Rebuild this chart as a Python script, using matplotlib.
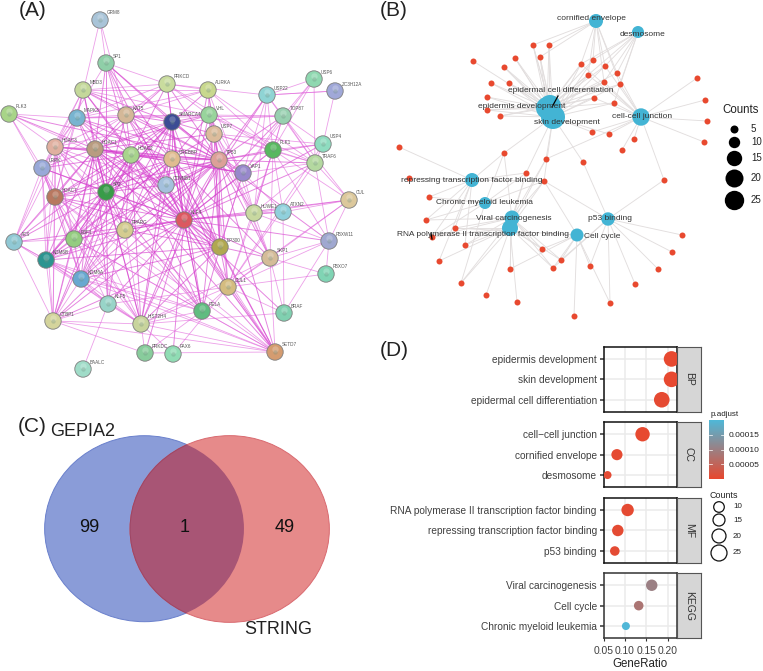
import numpy as np
import matplotlib
matplotlib.use("Agg")
import matplotlib.pyplot as plt
from matplotlib.patches import Circle, Ellipse
from matplotlib.colors import LinearSegmentedColormap

plt.rcParams['font.family'] = ['Liberation Sans', 'DejaVu Sans']
W, H = 763, 671

# ---------- Panel A: STRING network ----------
a_names = ["GRM8","SP1","PRKCD","AURKA","USP6","ZC3H12A","USP22","MBD3","PLK3","MAPK3","KAT5","SMARCA4","VHL","TOP87",
           "USP7","USP4","PLK1","TRAF6","HDAC3","HDAC1","HDAC2","CREBBP","TP53","YAP1","LRRK","CTNNB1","SP2","HDAC7",
           "HUWE1","ATXN2","CUL","KLF4","PPARG","EP300","FBXW11","AES","EBF1","SKP1","KDM6B","FBXO7","CUL1","KDM6A",
           "KLF5","RELA","BRAF","CTBP1","HIST2H4","PRKDC","PAX6","SETD7","BAALC"]
a_x = [100,106,167,208,314,335,267,83,9,77,126,172,209,283,214,323,273,315,55,95,131,172,219,243,42,166,106,55,
       254,283,349,184,125,220,329,14,74,270,46,326,228,81,108,202,284,53,141,145,173,275,83]
a_y = [20,63,84,90,79,91,95,90,114,118,115,122,115,116,134,144,150,163,147,149,155,159,160,173,168,185,192,197,
       213,212,200,220,230,247,241,242,239,258,260,274,287,279,304,311,313,321,324,353,354,352,369]
a_colors = ["#a9c4d8","#8fcfa8","#c9dc9e","#c8d88e","#8fd8b0","#a0a8d8","#8fd4d4","#c4d89a","#a8d488","#78b4d0","#d4b898","#3c4c94",
            "#98d49c","#98d0b0","#dcbc9c","#8fdcc0","#58b860","#b4d8a0","#e0b0a0","#b89c80","#a8d48c","#e0bc90","#dca098","#9888cc",
            "#98a8d8","#a4c0dc","#389c48","#b87860","#c8d8a0","#90d0dc","#dcc89c","#dc5860","#d4cc90","#b0a850","#a0a8d0","#90c8d4",
            "#94cc80","#d4bc98","#2c9490","#80d4b4","#d4bc80","#68a8d0","#98d4c8","#60bc80","#80d0b0","#d4d49c","#c8d49c","#88cc9c",
            "#90dcb4","#d49c70","#a0dcc8"]
a_edges = {
 "KLF4": "SP1 PRKCD AURKA SMARCA4 VHL USP7 HDAC3 HDAC1 HDAC2 CREBBP TP53 YAP1 CTNNB1 SP2 HDAC7 HUWE1 ATXN2 CUL PPARG EP300 FBXW11 AES EBF1 SKP1 KDM6B CUL1 KDM6A KLF5 RELA CTBP1 HIST2H4 PRKDC PAX6 SETD7 USP4 TRAF6 MAPK3 KAT5 MBD3 LRRK PLK1 TOP87 BRAF USP22",
 "TP53": "SP1 PRKCD AURKA SMARCA4 VHL USP7 HDAC3 HDAC1 HDAC2 CREBBP YAP1 CTNNB1 SP2 HDAC7 HUWE1 PPARG EP300 EBF1 SKP1 KDM6B CUL1 KDM6A RELA CTBP1 HIST2H4 SETD7 USP22 USP4 TRAF6 PLK1 MAPK3 KAT5 MBD3 TOP87 FBXW11 PLK3",
 "HDAC1": "SP1 PRKCD SMARCA4 VHL KAT5 MBD3 MAPK3 HDAC3 HDAC2 CREBBP CTNNB1 SP2 HDAC7 PPARG EP300 RELA EBF1 KDM6B KDM6A KLF5 CTBP1 HIST2H4 AES LRRK YAP1 SETD7 PLK3 USP7",
 "HDAC2": "SP1 PRKCD SMARCA4 KAT5 MBD3 MAPK3 HDAC3 CREBBP CTNNB1 SP2 HDAC7 PPARG EP300 RELA EBF1 KDM6B KDM6A KLF5 CTBP1 HIST2H4 SETD7 AES LRRK YAP1",
 "HDAC3": "SP1 MBD3 SMARCA4 KAT5 CREBBP CTNNB1 SP2 HDAC7 PPARG RELA EBF1 KDM6B KDM6A CTBP1 HIST2H4 AES LRRK PLK3 MAPK3",
 "CREBBP": "SP1 SMARCA4 VHL KAT5 USP7 CTNNB1 SP2 HDAC7 PPARG EP300 RELA EBF1 KDM6B KDM6A HIST2H4 SETD7 YAP1 MAPK3 CUL1 SKP1",
 "SMARCA4": "PRKCD SP1 KAT5 VHL USP7 CTNNB1 SP2 PPARG EP300 RELA KDM6B KDM6A HIST2H4 HDAC7 EBF1 YAP1 MBD3 AURKA",
 "EP300": "KAT5 USP7 CTNNB1 SP2 HDAC7 PPARG RELA KDM6B KDM6A HIST2H4 SETD7 YAP1 CUL1 SKP1 VHL CTBP1",
 "SP2": "SP1 KAT5 MAPK3 CTNNB1 HDAC7 PPARG RELA EBF1 KDM6B KDM6A KLF5 CTBP1 HIST2H4 AES LRRK MBD3",
 "HIST2H4": "HDAC7 KDM6B KDM6A EBF1 PPARG CTBP1 RELA SETD7 AES KLF5 CUL1 LRRK SKP1 BRAF",
 "SETD7": "RELA CUL1 KDM6A KDM6B CTBP1 PPARG EBF1 SKP1 HDAC7 CTNNB1 PRKDC",
 "CUL1": "SKP1 FBXW11 FBXO7 BRAF HUWE1 CUL RELA USP4 PLK1 VHL TRAF6 KLF5 PAX6",
 "SKP1": "FBXW11 FBXO7 BRAF HUWE1 PLK1 CUL USP7 VHL",
 "HDAC7": "AES KDM6B KDM6A CTBP1 EBF1 LRRK PPARG MBD3 PLK3 MAPK3 RELA KLF5",
 "KDM6B": "KDM6A CTBP1 EBF1 AES LRRK PPARG RELA KLF5",
 "KDM6A": "CTBP1 EBF1 AES PPARG RELA KLF5 LRRK",
 "EBF1": "AES CTBP1 LRRK PPARG RELA",
 "CTBP1": "AES LRRK PRKDC KLF5",
 "USP7": "PLK1 YAP1 VHL AURKA TRAF6 USP4 HUWE1 EP300",
 "PLK1": "AURKA VHL USP22 USP4 TRAF6 TOP87 YAP1 PRKCD HUWE1 FBXW11 CUL ATXN2 USP6",
 "YAP1": "VHL USP22 USP6 TOP87 TRAF6 ATXN2 HUWE1 EP300",
 "TRAF6": "USP4 USP22 TOP87 CUL AURKA VHL USP6 FBXW11 HUWE1",
 "USP22": "ZC3H12A TOP87 HUWE1 USP6",
 "ZC3H12A": "USP4 USP22",
 "TOP87": "VHL USP6 USP4 CUL HUWE1 MAPK3 SMARCA4",
 "PRKCD": "AURKA SP1 MBD3 MAPK3 KAT5 VHL USP22",
 "AURKA": "VHL MAPK3 HUWE1 KAT5 MBD3",
 "MBD3": "MAPK3 KAT5 LRRK VHL",
 "MAPK3": "KAT5 LRRK PLK3 VHL AES",
 "KAT5": "SP1 VHL LRRK",
 "PLK3": "LRRK CTNNB1",
 "GRM8": "SP1 KAT5 MAPK3",
 "CUL": "FBXW11 ATXN2 HUWE1",
 "FBXW11": "FBXO7 HUWE1 BRAF",
 "BAALC": "KLF5",
 "PRKDC": "RELA HIST2H4",
 "PAX6": "HIST2H4",
 "ATXN2": "HUWE1 BRAF",
 "LRRK": "AES KDM6A",
}

# ---------- Panel B: gene-concept network ----------
b_terms = ["cornified envelope","desmosome","epidermis development","skin development","epidermal cell differentiation",
           "cell-cell junction","repressing transcription factor binding","Chronic myeloid leukemia","Viral carcinogenesis",
           "RNA polymerase II transcription factor binding","p53 binding","Cell cycle"]
b_tx = [596,638,547,553,550,641,472,485,512,510,608,577]
b_ty = [21,32,108,117,106,117,180,203,218,228,219,235]
b_tr = [7,6,11,12,11,8.7,7,6,7.5,8,6.7,6.5]
b_lx = [591,642,522,567,561,642,472,484,514,483,610,602]
b_ly = [19,34,107,122,91,117,180,203,218,234,219,236]
b_gx = [533,549,540,515,473,504,491,509,487,487,500,581,593,605,617,588,604,620,594,614,697,705,707,704,592,609,634,622,
        504,546,583,526,544,664,399,409,429,426,455,432,465,439,461,486,517,510,542,553,561,590,635,610,574,658,672,682]
b_gy = [45,45,57,58,61,67,83,83,97,110,116,64,60,66,73,75,82,84,98,103,78,100,121,142,132,134,139,150,
        153,159,162,173,181,180,147,178,197,220,228,237,245,261,283,295,302,269,249,268,260,266,284,303,316,269,252,235]
b_links = {
 0: [0,1,2,11,12,13,14,15,16,17],
 1: [11,12,13,14,15,16,17,19],
 2: [0,1,2,3,4,5,6,7,8,9,10,11,12,13,14,15,16,17,18,19],
 3: [0,1,2,3,5,6,7,8,9,10,11,12,13,15,16,17,18,19,24,25,28,29,30,31,32],
 4: [0,1,2,3,5,7,9,10,11,15,16,18],
 5: [11,13,14,15,16,17,18,19,20,21,22,23,24,25,26,27,29,33],
 6: [28,32,34,35,36,37,38,39,40,41,31],
 7: [28,31,32,36,37,39,42],
 8: [28,29,31,32,37,38,39,40,42,45,46,47,48],
 9: [29,31,32,38,39,40,41,42,43,44,45,46,47,48],
 10: [30,32,33,49,50,51,53,54,55,48,47],
 11: [45,46,47,48,49,51,52,32,38],
}

# ---------- Panel C: Venn ----------
venn_names = ["GEPIA2", "STRING"]
venn_counts = [99, 1, 49]

# ---------- Panel D: dot plot ----------
d_groups = ["BP", "CC", "MF", "KEGG"]
d_terms = [["epidermis development","skin development","epidermal cell differentiation"],
           ["cell\u2212cell junction","cornified envelope","desmosome"],
           ["RNA polymerase II transcription factor binding","repressing transcription factor binding","p53 binding"],
           ["Viral carcinogenesis","Cell cycle","Chronic myeloid leukemia"]]
d_ratio = [[0.209,0.209,0.186],[0.141,0.081,0.059],[0.106,0.083,0.076],[0.1625,0.132,0.102]]
d_counts = [[24,24,24],[21,12,5],[16,13,8],[13,8,4]]
d_padj = [[0.000002,0.000002,0.000004],[0.000002,0.000004,0.000006],[0.000004,0.000005,0.000006],[0.00010,0.00008,0.000198]]
d_xticks = [0.05,0.10,0.15,0.20]
count_levels = [5,10,15,20,25]
legend_radius_px = [4.0,5.3,6.0,7.0,8.0]
padj_ticks = [0.00005,0.00010,0.00015]
b_legend_counts = [5,10,15,20,25]
b_legend_r = [4,5.7,7.7,9,9.7]

fig = plt.figure(figsize=(W/100, H/100), dpi=100)
ax = fig.add_axes([0,0,1,1])
ax.set_xlim(0,W); ax.set_ylim(H,0); ax.axis('off')
px2pt = 72/100

def size(r):
    return (2*r*px2pt)**2

# panel letters
for s,x,y in [("(A)",19,11),("(B)",380,11),("(C)",18,426),("(D)",380,351)]:
    ax.text(x,y,s,fontsize=15,color="#222222",va='center',ha='left')

# A edges
idx = {n:i for i,n in enumerate(a_names)}
for src,tg in a_edges.items():
    for t in tg.split():
        i,j = idx[src],idx[t]
        strong = src in ("KLF4","TP53","HDAC1","HDAC2","CREBBP","EP300","SP2","SMARCA4")
        ax.plot([a_x[i],a_x[j]],[a_y[i],a_y[j]],color="#d53ccd" if strong else "#e060da",
                lw=0.7 if strong else 0.6,alpha=0.62 if strong else 0.6,zorder=1,solid_capstyle='round')
ax.scatter(a_x,a_y,s=size(8.2),c=a_colors,edgecolors="#7d7d7d",linewidths=0.6,zorder=2)
ax.scatter(a_x,np.array(a_y)-3,s=size(3.2),c="white",alpha=0.22,linewidths=0,zorder=3)
ax.scatter(a_x,a_y,s=size(2.2),c="#6f8f7f",alpha=0.3,linewidths=0,zorder=3)
for n,x,y in zip(a_names,a_x,a_y):
    ax.text(x+7,y-7,n,fontsize=3.3,color="#555555",va='center',ha='left',zorder=4)

# B
for h,gs in b_links.items():
    for g in gs:
        ax.plot([b_tx[h],b_gx[g]],[b_ty[h],b_gy[g]],color="#e2dede",lw=0.65,zorder=1)
ax.scatter(b_tx,b_ty,s=[size(r) for r in b_tr],c="#43b4d4",linewidths=0,zorder=2)
ax.scatter(b_gx,b_gy,s=size(3.0),c="#e8492f",linewidths=0,zorder=3)
ax.plot([558,552],[96,107],color="black",lw=0.9,zorder=4)
ax.plot([431,432],[233,239],color="black",lw=0.9,zorder=4)
for t,x,y in zip(b_terms,b_lx,b_ly):
    ax.text(x,y,t,fontsize=6.0,color="#333333",ha='center',va='center',zorder=5)
ax.text(741,110,"Counts",fontsize=8.3,color="#222222",ha='center',va='center')
for c,r,y in zip(b_legend_counts,b_legend_r,[129,142,158,178,200]):
    ax.scatter([734],[y],s=size(r),c="black",linewidths=0)
    ax.text(751,y,str(c),fontsize=7,color="#222222",ha='left',va='center')

# C
cb = Ellipse((144.3,528.7),199.3,186,fc="#8a9cd8",ec="#6a80cc",lw=0.7)
cr = Ellipse((229.7,529),199.3,186.7,fc="#e68a8a",ec="#d96a70",lw=0.7)
ax.add_patch(cb); ax.add_patch(cr)
ov = Ellipse((229.7,529),199.3,186.7,fc="#a85575",ec="#9c4565",lw=0.7)
ax.add_patch(ov)
ov.set_clip_path(Ellipse((144.3,528.7),199.3,186,transform=ax.transData))
ax.text(89,528,str(venn_counts[0]),fontsize=13,ha='center',va='center',color="#111111")
ax.text(185,527,str(venn_counts[1]),fontsize=13,ha='center',va='center',color="#111111")
ax.text(285,528,str(venn_counts[2]),fontsize=13,ha='center',va='center',color="#111111")
ax.text(50,432,venn_names[0],fontsize=13,ha='left',va='center',color="#222222")
ax.text(244,630,venn_names[1],fontsize=13,ha='left',va='center',color="#222222")

# D
cmap = LinearSegmentedColormap.from_list("padj",["#e8482f","#4fb8d8"])
def fax(x0,y0,x1,y1):
    return fig.add_axes([x0/W,1-y1/H,(x1-x0)/W,(y1-y0)/H])
panels = [(346.7,412),(422,487.3),(497.7,563.3),(573,638.3)]
for k,(y0,y1) in enumerate(panels):
    a = fax(603.7,y0,676.7,y1)
    ys = [3,2,1]
    a.set_xlim(0.05,0.221); a.set_ylim(0.4,3.6)
    a.set_axisbelow(True)
    a.grid(True,color="#ebebeb",lw=1.1)
    a.set_xticks(d_xticks)
    a.set_yticks(ys); a.set_yticklabels(d_terms[k],fontsize=7.3,color="#404040")
    a.tick_params(axis='y',length=3,width=1.1,color="#333333",pad=2)
    rad = np.interp(d_counts[k],count_levels,legend_radius_px)
    a.scatter(d_ratio[k],ys,s=size(rad),c=[cmap(v/0.0002) for v in d_padj[k]],linewidths=0,zorder=3)
    if k==3:
        a.set_xticklabels(["%.2f"%v for v in d_xticks],fontsize=7.4,color="#404040")
        a.tick_params(axis='x',length=2.5,width=0.8,pad=3,color="#333333")
        a.set_xlabel("GeneRatio",fontsize=8.3,color="#222222",labelpad=1.5)
    else:
        a.tick_params(axis='x',length=0,labelbottom=False)
    for s in a.spines.values():
        s.set_linewidth(1.1); s.set_color("#111111" if k<3 else "#333333")
    st = fax(677.3,y0,700.7,y1)
    st.set_xticks([]); st.set_yticks([]); st.set_facecolor("#d6d6d6")
    for s in st.spines.values():
        s.set_linewidth(0.8); s.set_color("#555555")
    st.text(0.5,0.5,d_groups[k],rotation=270,ha='center',va='center',fontsize=7.5,color="#333333",transform=st.transAxes)

cax = fax(709.3,420,724.3,479)
grad = np.linspace(1,0,256).reshape(-1,1)
cax.imshow(grad,aspect='auto',cmap=cmap,extent=[0,1,0,0.0002],vmin=0,vmax=1)
cax.set_xticks([])
cax.set_yticks(padj_ticks)
cax.yaxis.tick_right()
cax.set_yticklabels(["%.5f"%v for v in padj_ticks],fontsize=6,color="#222222")
cax.tick_params(axis='y',length=0,pad=3)
for s in cax.spines.values():
    s.set_visible(False)
for v in padj_ticks:
    cax.plot([0,0.2],[v,v],color="white",lw=0.5)
    cax.plot([0.8,1],[v,v],color="white",lw=0.5)
cax.set_xlim(0,1); cax.set_ylim(0,0.0002)

ax.text(724.5,414,"p.adjust",fontsize=5.8,color="#222222",ha='center',va='center',zorder=6)
ax.text(710,495.5,"Counts",fontsize=6.4,color="#222222",ha='left',va='center',zorder=6)
for c,r,y in zip(count_levels[1:],legend_radius_px[1:],[507,520,536,553]):
    ax.add_patch(Circle((719,y),r,fc="white",ec="#111111",lw=0.9))
    ax.text(733,y,str(c),fontsize=5.8,color="#222222",ha='left',va='center')

fig.savefig("out.png",dpi=100)
